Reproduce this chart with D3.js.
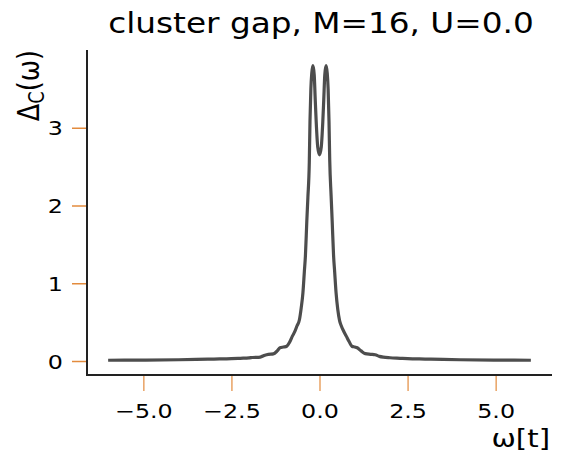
<!DOCTYPE html>
<html>
<head>
<meta charset="utf-8">
<script src="https://cdn.jsdelivr.net/npm/d3@7"></script>
<style>
  html, body { margin: 0; padding: 0; background: #ffffff; }
  svg { display: block; }
  text { font-family: "DejaVu Sans", sans-serif; fill: #000; }
</style>
</head>
<body>
<svg id="chart" width="565" height="452"></svg>
<script>
// Cluster gap spectrum Δ_C(ω), M=16, U=0.0
const omega = [
  -6.0, -5.0, -4.0, -3.5, -3.0, -2.5, -2.25, -2.0, -1.9, -1.68, -1.55, -1.45,
  -1.31, -1.2, -1.12, -1.02, -0.93, -0.85, -0.77, -0.70, -0.64, -0.57, -0.52,
  -0.47, -0.43, -0.40, -0.36, -0.33, -0.29, -0.27, -0.245, -0.22, -0.185,
  -0.15, -0.12, -0.094, -0.05, 0.0,
  0.05, 0.094, 0.12, 0.15, 0.185, 0.22, 0.245, 0.27, 0.29, 0.33, 0.36, 0.40,
  0.43, 0.47, 0.52, 0.57, 0.62, 0.69, 0.76, 0.84, 0.92, 1.0, 1.07, 1.18,
  1.30, 1.45, 1.58, 1.70, 1.81, 2.0, 2.29, 2.5, 3.0, 3.5, 4.0, 5.0, 6.0
];
const gap = [
  0.010, 0.012, 0.016, 0.020, 0.025, 0.030, 0.035, 0.040, 0.045, 0.051, 0.075, 0.086,
  0.092, 0.13, 0.17, 0.18, 0.19, 0.24, 0.32, 0.38, 0.45, 0.53, 0.68,
  0.88, 1.15, 1.35, 1.80, 2.10, 2.55, 3.08, 3.50, 3.70, 3.80,
  3.68, 3.35, 3.08, 2.75, 2.65,
  2.75, 3.08, 3.35, 3.68, 3.80, 3.70, 3.50, 3.08, 2.59, 2.12, 1.80, 1.35,
  1.15, 0.88, 0.66, 0.52, 0.45, 0.38, 0.32, 0.25, 0.19, 0.18, 0.17, 0.13,
  0.095, 0.086, 0.080, 0.060, 0.050, 0.042, 0.035, 0.030, 0.025, 0.020, 0.016, 0.012, 0.010
];
const xTicks = [-5.0, -2.5, 0.0, 2.5, 5.0];
const xTickLabels = ["\u22125.0", "\u22122.5", "0.0", "2.5", "5.0"];
const yTicks = [0, 1, 2, 3];
const yTickLabels = ["0", "1", "2", "3"];

const titleText = "cluster gap, M=16, U=0.0";
const xLabel = "\u03c9[t]";

const svg = d3.select("#chart");
const plotLeft = 87, plotRight = 552, plotTop = 50, plotBottom = 375;
const sx = 1.19; // horizontal glyph scaling

const x = d3.scaleLinear().domain([-6.6, 6.6]).range([plotLeft, plotRight]);
const y = d3.scaleLinear().domain([-0.18, 4.0]).range([plotBottom, plotTop]);

const tickColor = "#e38b3d";

// x axis
const xAxis = d3.axisBottom(x).tickValues(xTicks)
  .tickFormat((d, i) => xTickLabels[i]).tickSize(15).tickPadding(0);
const gx = svg.append("g").attr("transform", `translate(0,${plotBottom + 1})`).call(xAxis);
gx.select(".domain").remove();
gx.selectAll(".tick line").attr("stroke", tickColor).attr("stroke-width", 1.2);
gx.selectAll(".tick text")
  .attr("y", null).attr("dy", null)
  .attr("transform", `translate(0,42) scale(${sx},1)`)
  .attr("font-size", 20).attr("fill", "#000")
  .attr("text-anchor", "middle");

// y axis
const yAxis = d3.axisLeft(y).tickValues(yTicks)
  .tickFormat((d, i) => yTickLabels[i]).tickSize(15).tickPadding(0);
const gy = svg.append("g").attr("transform", `translate(${plotLeft},0)`).call(yAxis);
gy.select(".domain").remove();
gy.selectAll(".tick line").attr("stroke", tickColor).attr("stroke-width", 1.5);
gy.selectAll(".tick text")
  .attr("x", null).attr("dy", null)
  .attr("transform", `translate(-24,7) scale(${sx},1)`)
  .attr("font-size", 20).attr("fill", "#000")
  .attr("text-anchor", "end");

// spines (left and bottom)
svg.append("line").attr("x1", plotLeft).attr("x2", plotLeft).attr("y1", plotTop).attr("y2", plotBottom + 1)
  .attr("stroke", "#222").attr("stroke-width", 2);
svg.append("line").attr("x1", plotLeft).attr("x2", plotRight).attr("y1", plotBottom).attr("y2", plotBottom)
  .attr("stroke", "#222").attr("stroke-width", 2);

// curve
const pts = omega.map((w, i) => [w, gap[i]]);
const line = d3.line().x(d => x(d[0])).y(d => y(d[1])).curve(d3.curveMonotoneX);
svg.append("path").datum(pts).attr("d", line)
  .attr("fill", "none").attr("stroke", "#4d4d4d").attr("stroke-width", 3.2)
  .attr("stroke-linejoin", "round");

// title
svg.append("text")
  .attr("transform", `translate(321,33) scale(${sx},1)`)
  .attr("text-anchor", "middle").attr("font-size", 27.5)
  .text(titleText);

// x label (right aligned)
svg.append("text")
  .attr("transform", `translate(550,447) scale(${sx},1)`)
  .attr("text-anchor", "end").attr("font-size", 24.5)
  .text(xLabel);

// y label (top aligned, rotated)
const yl = svg.append("text")
  .attr("transform", `translate(39,50) scale(${sx},1) rotate(-90)`)
  .attr("text-anchor", "end").attr("font-size", 25.5);
yl.append("tspan").text("\u0394");
yl.append("tspan").attr("font-size", 18).attr("dy", 4).text("C");
yl.append("tspan").attr("dy", -4).text("(\u03c9)");
</script>
</body>
</html>
